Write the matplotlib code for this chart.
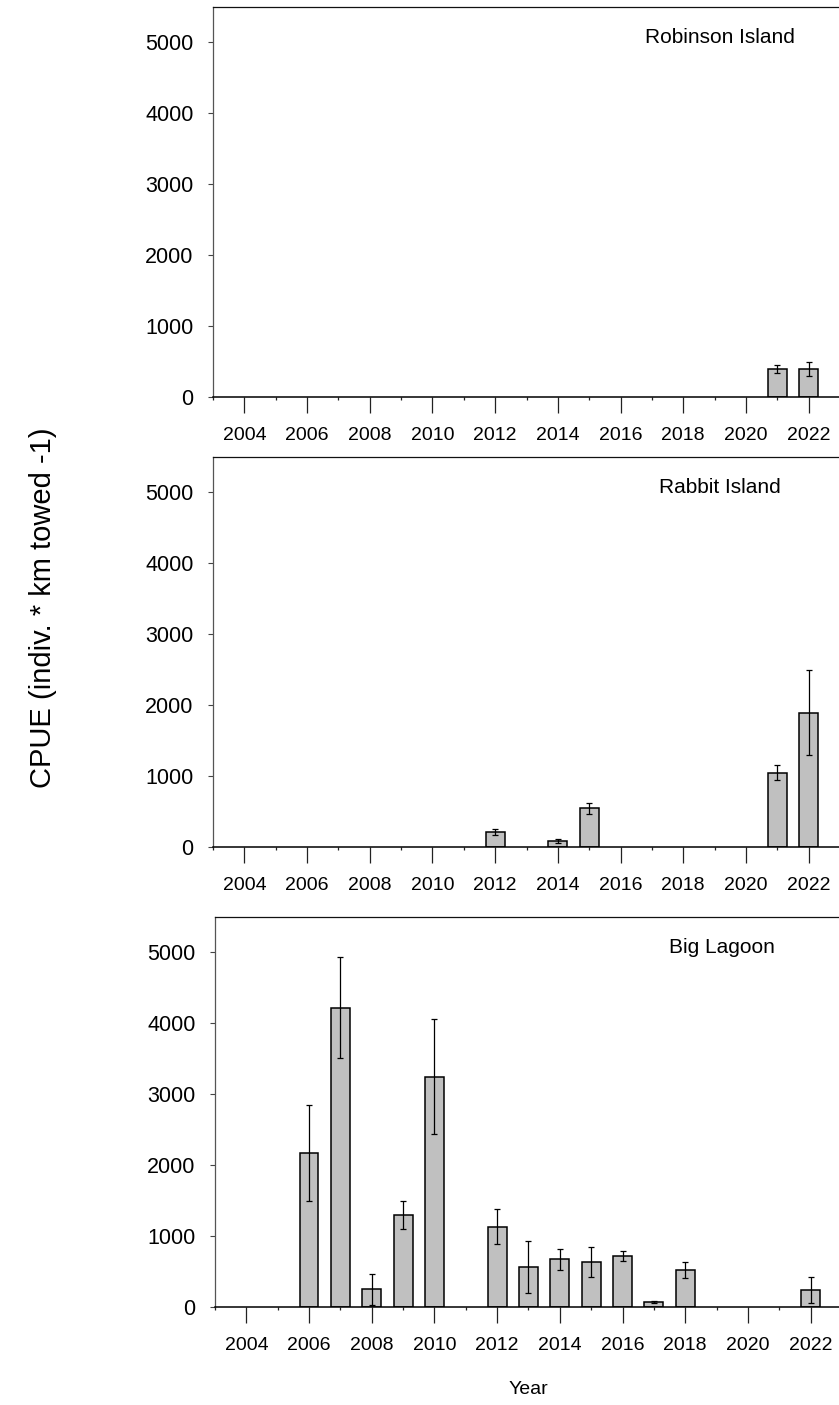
import matplotlib
matplotlib.use("Agg")
import matplotlib.pyplot as plt
from matplotlib.ticker import FixedLocator

plt.rcParams['font.family'] = ['Liberation Sans', 'DejaVu Sans']

# ---- data ----
site_names = ["Robinson Island", "Rabbit Island", "Big Lagoon"]

robinson_years = [2021, 2022]
robinson_cpue = [398, 398]
robinson_err = [57, 100]

rabbit_years = [2012, 2014, 2015, 2021, 2022]
rabbit_cpue = [212, 80, 545, 1050, 1895]
rabbit_err = [43, 30, 75, 105, 595]

lagoon_years = [2006, 2007, 2008, 2009, 2010, 2012, 2013, 2014, 2015, 2016, 2017, 2018, 2022]
lagoon_cpue = [2170, 4220, 250, 1295, 3250, 1135, 566, 670, 632, 721, 71, 519, 240]
lagoon_err = [680, 710, 220, 195, 810, 245, 363, 150, 210, 70, 20, 110, 185]

year_ticks = list(range(2004, 2023, 2))
y_ticks = [0, 1000, 2000, 3000, 4000, 5000]

W, H = 839, 1405
fig = plt.figure(figsize=(W / 100, H / 100), dpi=100)

panels = [
    (robinson_years, robinson_cpue, robinson_err, 213, 397),
    (rabbit_years, rabbit_cpue, rabbit_err, 213, 847),
    (lagoon_years, lagoon_cpue, lagoon_err, 215, 1307),
]

for (yrs, vals, errs, left_px, zero_px), name in zip(panels, site_names):
    ax_h = 390
    ax_w = 627
    ax = fig.add_axes([left_px / W, 1 - zero_px / H, ax_w / W, ax_h / H])
    ax.bar(yrs, vals, width=0.6, color='#c0c0c0', edgecolor='black',
           linewidth=1.1, zorder=2)
    ax.errorbar(yrs, vals, yerr=errs, fmt='none', ecolor='black',
                elinewidth=0.9, capsize=2.4, capthick=0.9, zorder=3)
    ax.set_xlim(2003, 2023)
    ax.set_ylim(0, 5500)
    ax.xaxis.set_major_locator(FixedLocator(year_ticks))
    ax.xaxis.set_minor_locator(FixedLocator(list(range(2003, 2024, 2))))
    ax.set_xticklabels([str(y) for y in year_ticks])
    ax.yaxis.set_major_locator(FixedLocator(y_ticks))
    ax.tick_params(axis='x', which='major', direction='out', length=11.5,
                   width=0.9, color='#222222', pad=10, labelsize=14)
    ax.tick_params(axis='x', which='minor', direction='out', length=2.4,
                   width=0.9, color='#222222')
    ax.tick_params(axis='y', which='major', direction='out', length=3.6,
                   width=0.8, color='#444444', pad=10.5, labelsize=15.5)
    ax.spines['right'].set_visible(False)
    ax.spines['top'].set_linewidth(0.9)
    ax.spines['top'].set_color('#111111')
    ax.spines['left'].set_linewidth(0.9)
    ax.spines['left'].set_color('#555555')
    ax.spines['bottom'].set_linewidth(1.1)
    ax.spines['bottom'].set_color('black')
    ax.text(0.808, 0.922, name, transform=ax.transAxes, ha='center',
            va='center', fontsize=15)

fig.text(528 / W, 1 - 1389 / H, "Year", ha='center', va='center', fontsize=14)
fig.text(43 / W, 1 - 608 / H, "CPUE (indiv. * km towed -1)", rotation=90,
         ha='center', va='center', fontsize=21)

fig.savefig("out.png", dpi=100)
